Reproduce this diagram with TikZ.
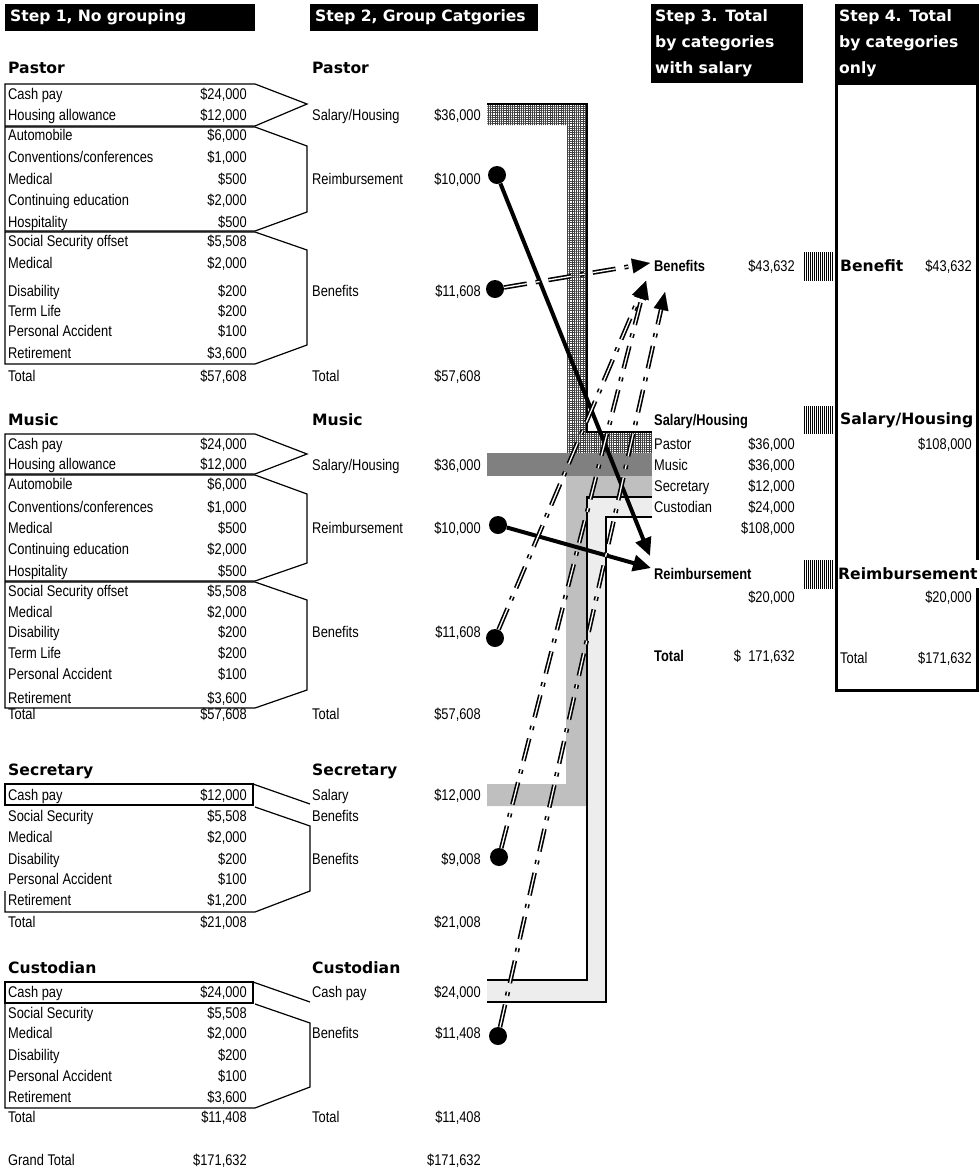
\documentclass[tikz,border=0pt]{standalone}
\usepackage{fontspec}
\setmainfont{Liberation Sans}[FakeStretch=0.83]
\newfontfamily\heavyfont{DejaVu Sans}
\usetikzlibrary{arrows.meta,patterns.meta,calc}

\begin{document}
\begin{tikzpicture}[x=1pt,y=-1pt,
    txt/.style={anchor=west, inner sep=0pt, text height=11pt, text depth=0pt, font=\fontsize{15.5}{17}\selectfont},
    val/.style={txt, anchor=east},
    boldtxt/.style={txt, font=\bfseries\fontsize{15.5}{17}\selectfont},
    head/.style={anchor=west, inner sep=0pt, text height=11pt, text depth=0pt, font=\heavyfont\bfseries\fontsize{15.6}{18}\selectfont},
    steptitle/.style={fill=black, text=white, anchor=north west, inner ysep=0pt, align=left, font=\heavyfont\bfseries\fontsize{15.6}{26}\selectfont},
    grp/.style={line width=1.2pt},
    band/.style={line width=1.8pt},
    dot/.style={circle, fill=black, minimum size=18pt, inner sep=0pt},
    reimb/.style={line width=4pt, -{Triangle[length=18pt,width=16pt]}},
    benef/.style={line width=1.6pt, double, double distance=1.3pt, dash pattern=on 23pt off 9pt on 4pt off 9pt, shorten >=16pt},
    benhead/.style={line width=0.1pt, -{Triangle[length=18pt,width=15pt]}},
    vhatch/.style={pattern={Lines[angle=90,distance=2pt,line width=1pt]}}]
  \useasboundingbox (0,0) rectangle (980,1171);

  % step titles
  \node[steptitle, text width=240pt, inner xsep=5pt, minimum height=27pt] (st1) at (5,4) {Step 1, No grouping};
  \node[steptitle, text width=218pt, inner xsep=5pt, minimum height=27pt] (st2) at (310,4) {Step 2, Group Catgories};
  \node[steptitle, text width=144pt, inner xsep=4pt, minimum height=79pt] (st3) at (651,4) {Step 3. Total\\by categories\\with salary};
  \node[steptitle, text width=136pt, inner xsep=4pt, minimum height=79pt] (st4) at (835,4) {Step 4. Total\\by categories\\only};

  % salary bands
  \fill[pattern={Hatch[angle=0,distance=2.2pt,line width=0.8pt]}, pattern color=black!75]
    (487,104) -- (587,104) -- (587,432) -- (652,432) -- (652,453) -- (567,453) -- (567,125) -- (487,125) -- cycle;
  \draw[band] (487,104) -- (587,104) -- (587,432) -- (652,432);
  \fill[black!50] (487,453) rectangle (652,476);
  \fill[black!25] (487,784) -- (566,784) -- (566,476) -- (652,476) -- (652,497) -- (587,497) -- (587,806) -- (487,806) -- cycle;
  \fill[black!7] (652,497) -- (587,497) -- (587,980) -- (487,980) -- (487,1002) -- (606,1002) -- (606,517) -- (652,517) -- cycle;
  \draw[band] (652,497) -- (587,497) -- (587,980) -- (487,980);
  \draw[band] (652,517) -- (606,517) -- (606,1002) -- (487,1002);

  % step 1 groups
  \draw[grp] (5,84) -- (255,84) -- (307,104) -- (255,126) -- (5,126) -- cycle;
  \draw[grp] (5,127) -- (255,127) -- (307,146) -- (307,212) -- (255,231) -- (5,231) -- cycle;
  \draw[grp] (5,232) -- (255,232) -- (307,250) -- (307,345) -- (255,364) -- (5,364) -- cycle;
  \draw[grp] (5,434) -- (255,434) -- (307,454) -- (255,474) -- (5,474) -- cycle;
  \draw[grp] (5,475) -- (255,475) -- (307,494) -- (307,563) -- (255,581) -- (5,581) -- cycle;
  \draw[grp] (5,582) -- (255,582) -- (307,600) -- (307,690) -- (255,708) -- (5,708) -- cycle;
  \draw[grp] (5,784) rectangle (253,805);
  \draw[grp] (253,784) -- (310,804);
  \draw[grp] (5,891) -- (5,912) -- (255,912) -- (310,891) -- (310,826) -- (255,807);
  \draw[grp] (5,982) rectangle (253,1003);
  \draw[grp] (253,982) -- (310,1002);
  \draw[grp] (5,1004) -- (5,1108) -- (255,1108) -- (310,1087) -- (310,1023) -- (255,1004);

  % step 1 rows
  \node[head] (pHead) at (8,68) {Pastor};
  \foreach \y/\lab/\val [count=\i] in {94/{Cash pay}/{\$24,000}, 115/{Housing allowance}/{\$12,000},
      135/{Automobile}/{\$6,000}, 157/{Conventions/conferences}/{\$1,000}, 179/{Medical}/{\$500},
      200/{Continuing education}/{\$2,000}, 222/{Hospitality}/{\$500}, 241/{Social Security offset}/{\$5,508},
      263/{Medical}/{\$2,000}, 291/{Disability}/{\$200}, 311/{Term Life}/{\$200},
      331/{Personal Accident}/{\$100}, 353/{Retirement}/{\$3,600}, 376/{Total}/{\$57,608}}
    {\node[txt] (p\i) at (8,\y) {\lab}; \node[val] (pv\i) at (247,\y) {\val};}

  \node[head] (mHead) at (8,420) {Music};
  \foreach \y/\lab/\val [count=\i] in {444/{Cash pay}/{\$24,000}, 464/{Housing allowance}/{\$12,000},
      484/{Automobile}/{\$6,000}, 507/{Conventions/conferences}/{\$1,000}, 528/{Medical}/{\$500},
      549/{Continuing education}/{\$2,000}, 571/{Hospitality}/{\$500}, 591/{Social Security offset}/{\$5,508},
      612/{Medical}/{\$2,000}, 632/{Disability}/{\$200}, 653/{Term Life}/{\$200},
      674/{Personal Accident}/{\$100}, 698/{Retirement}/{\$3,600}, 714/{Total}/{\$57,608}}
    {\node[txt] (m\i) at (8,\y) {\lab}; \node[val] (mv\i) at (247,\y) {\val};}

  \node[head] (sHead) at (8,770) {Secretary};
  \foreach \y/\lab/\val [count=\i] in {795/{Cash pay}/{\$12,000}, 816/{Social Security}/{\$5,508},
      837/{Medical}/{\$2,000}, 859/{Disability}/{\$200}, 879/{Personal Accident}/{\$100},
      900/{Retirement}/{\$1,200}, 922/{Total}/{\$21,008}}
    {\node[txt] (s\i) at (8,\y) {\lab}; \node[val] (sv\i) at (247,\y) {\val};}

  \node[head] (cHead) at (8,968) {Custodian};
  \foreach \y/\lab/\val [count=\i] in {992/{Cash pay}/{\$24,000}, 1013/{Social Security}/{\$5,508},
      1033/{Medical}/{\$2,000}, 1055/{Disability}/{\$200}, 1076/{Personal Accident}/{\$100},
      1097/{Retirement}/{\$3,600}, 1117/{Total}/{\$11,408}, 1160/{Grand Total}/{\$171,632}}
    {\node[txt] (c\i) at (8,\y) {\lab}; \node[val] (cv\i) at (247,\y) {\val};}

  % step 2
  \node[head] (pHead2) at (312,68) {Pastor};
  \node[head] (mHead2) at (312,420) {Music};
  \node[head] (sHead2) at (312,770) {Secretary};
  \node[head] (cHead2) at (312,968) {Custodian};
  \foreach \y/\lab/\val [count=\i] in {115/{Salary/Housing}/{\$36,000}, 179/{Reimbursement}/{\$10,000},
      291/{Benefits}/{\$11,608}, 376/{Total}/{\$57,608}, 465/{Salary/Housing}/{\$36,000},
      528/{Reimbursement}/{\$10,000}, 632/{Benefits}/{\$11,608}, 714/{Total}/{\$57,608},
      795/{Salary}/{\$12,000}, 816/{Benefits}/{}, 859/{Benefits}/{\$9,008}, 922/{}/{\$21,008},
      992/{Cash pay}/{\$24,000}, 1033/{Benefits}/{\$11,408}, 1117/{Total}/{\$11,408}, 1160/{}/{\$171,632}}
    {\node[txt] (g\i) at (312,\y) {\lab}; \node[val] (gv\i) at (481,\y) {\val};}

  % step 3
  \node[boldtxt] (tBen) at (654,266) {Benefits};
  \node[val] (tBenV) at (795,266) {\$43,632};
  \node[boldtxt] (tSal) at (654,420) {Salary/Housing};
  \foreach \y/\lab/\val [count=\i] in {444/{Pastor}/{\$36,000}, 465/{Music}/{\$36,000},
      486/{Secretary}/{\$12,000}, 507/{Custodian}/{\$24,000}, 528/{}/{\$108,000}}
    {\node[txt] (t\i) at (654,\y) {\lab}; \node[val] (tv\i) at (795,\y) {\val};}
  \node[boldtxt] (tRe) at (654,574) {Reimbursement};
  \node[val] (tReV) at (795,597) {\$20,000};
  \node[boldtxt] (tTot) at (654,656) {Total};
  \node[val] (tTotV) at (795,656) {\$\ \ 171,632};

  % step 4
  \draw[line width=3pt] (977,560) -- (977,83) -- (836,83) -- (836,690) -- (977,690) -- (977,588);
  \fill[vhatch] (803,252) rectangle (833,280);
  \fill[vhatch] (803,406) rectangle (833,433);
  \fill[vhatch] (803,560) rectangle (833,588);
  \node[head] (fBen) at (840,266) {Benefit};
  \node[val] (fBenV) at (972,266) {\$43,632};
  \node[head] (fSal) at (840,419) {Salary/Housing};
  \node[val] (fSalV) at (972,444) {\$108,000};
  \node[head] (fRe) at (838,574) {Reimbursement};
  \node[val] (fReV) at (972,597) {\$20,000};
  \node[txt] (fTot) at (840,658) {Total};
  \node[val] (fTotV) at (972,658) {\$171,632};

  % flows
  \node[dot] (pReDot) at (497,175) {};
  \node[dot] (pBenDot) at (495,289) {};
  \node[dot] (mReDot) at (498,525) {};
  \node[dot] (mBenDot) at (495,638) {};
  \node[dot] (sBenDot) at (499,857) {};
  \node[dot] (cBenDot) at (498,1036) {};
  \coordinate (reTipA) at (650,556);
  \coordinate (reTipB) at (651,568);
  \coordinate (benTipA) at (650,263);
  \coordinate (benTipB) at (646,281);
  \coordinate (benTipC) at (665,292);

  \draw[reimb] (pReDot) -- (reTipA);
  \draw[reimb] (mReDot) -- (reTipB);

  \draw[benef] (pBenDot) -- (benTipA);
  \draw[benef] (mBenDot) -- (benTipB);
  \draw[benef] (sBenDot) -- (benTipB);
  \draw[benef] (cBenDot) -- (benTipC);
  \draw[benhead] ($(benTipA)!17pt!(pBenDot)$) -- (benTipA);
  \draw[benhead] ($(benTipB)!17pt!(mBenDot)$) -- (benTipB);
  \draw[benhead] ($(benTipB)!17pt!(sBenDot)$) -- (benTipB);
  \draw[benhead] ($(benTipC)!15pt!(cBenDot)$) -- (benTipC);
\end{tikzpicture}
\end{document}
